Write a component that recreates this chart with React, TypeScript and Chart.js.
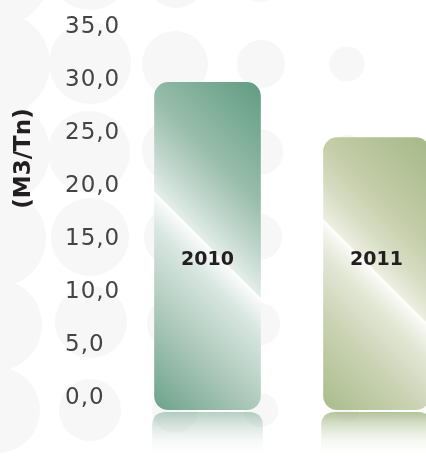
import React, { useEffect, useRef } from 'react';
import { Chart, registerables } from 'chart.js';

Chart.register(...registerables);

const categories = ['2010', '2011'];
const values = [30.9, 25.7];
const yTickLabels = ['0,0', '5,0', '10,0', '15,0', '20,0', '25,0', '30,0', '35,0'];
const yAxisTitle = '(M3/Tn)';
const yMin = 0;
const yMax = 35;
const yStep = 5;
const barLabelLevel = 14.1;

type Stop = [number, string];
const barStops: Stop[][] = [
  [
    [0, '#6ca28a'],
    [0.25, '#b0cbbe'],
    [0.42, '#d8e6e0'],
    [0.49, '#f6f9f8'],
    [0.5, '#ffffff'],
    [0.506, '#e3ede8'],
    [0.6, '#c0d6cc'],
    [0.72, '#98bdab'],
    [1, '#5f9c80'],
  ],
  [
    [0, '#a9bc8c'],
    [0.25, '#cad2b2'],
    [0.42, '#e4e8d8'],
    [0.49, '#f8f9f3'],
    [0.5, '#ffffff'],
    [0.506, '#eceee0'],
    [0.6, '#d6dcc2'],
    [0.72, '#c3cca7'],
    [1, '#a5b887'],
  ],
];
const reflectionTop = ['rgba(108,160,136,0.5)', 'rgba(160,180,128,0.8)'];

const barPct = 0.631;
const fontFamily = '"DejaVu Sans", Verdana, sans-serif';

const bgCircles: [number, number, number][] = [
  [-2, -26, 52], [-2, 64, 52], [-2, 152, 52], [-3, 238, 49], [-4, 325, 46], [-3, 410, 43],
  [90, -31, 41], [90, 63, 41], [89, 152, 41], [90, 237, 39], [91, 322, 36], [90, 410, 31],
  [176, -22, 30], [175, 64, 33], [175, 150, 33], [175, 237, 31], [175, 323, 28], [175, 410, 23],
  [259, -18, 20], [261, 64, 24], [260, 152, 23], [259, 237, 23], [258, 324, 22], [261, 410, 17],
  [347, 64, 17.5], [347, 152, 17], [347, 237, 16], [347, 324, 15], [347, 410, 12],
];

const backgroundPlugin = {
  id: 'bgCircles',
  beforeDraw(chart: any) {
    const ctx = chart.ctx;
    ctx.save();
    ctx.fillStyle = '#ffffff';
    ctx.fillRect(0, 0, chart.width, chart.height);
    ctx.fillStyle = '#f7f7f7';
    for (const [x, y, r] of bgCircles) {
      ctx.beginPath();
      ctx.arc(x, y, r, 0, Math.PI * 2);
      ctx.fill();
    }
    ctx.restore();
    ctx.letterSpacing = '1px';
  },
  beforeDatasetsDraw(chart: any) {
    chart.ctx.letterSpacing = '0px';
  },
};

const roundTopRect = (ctx: CanvasRenderingContext2D, l: number, t: number, r: number, b: number, rad: number) => {
  ctx.beginPath();
  ctx.moveTo(l, b);
  ctx.lineTo(l, t + rad);
  ctx.quadraticCurveTo(l, t, l + rad, t);
  ctx.lineTo(r - rad, t);
  ctx.quadraticCurveTo(r, t, r, t + rad);
  ctx.lineTo(r, b);
  ctx.closePath();
};

const decorPlugin = {
  id: 'decor',
  afterDatasetsDraw(chart: any) {
    const ctx: CanvasRenderingContext2D = chart.ctx;
    const meta = chart.getDatasetMeta(0);
    const ys = chart.scales.y;
    ctx.save();
    meta.data.forEach((el: any, i: number) => {
      const l = el.x - el.width / 2 - 2;
      const r = el.x + el.width / 2 + 2;
      const t = el.base + 2;
      const b = chart.height;
      const g = ctx.createLinearGradient(0, t, 0, b);
      g.addColorStop(0, reflectionTop[i]);
      g.addColorStop(1, 'rgba(255,255,255,0.05)');
      ctx.fillStyle = g;
      roundTopRect(ctx, l, t, r, b, 14);
      ctx.fill();
    });
    ctx.fillStyle = '#231f20';
    ctx.font = `bold 19px ${fontFamily}`;
    ctx.textAlign = 'center';
    ctx.textBaseline = 'middle';
    const ly = ys.getPixelForValue(barLabelLevel);
    meta.data.forEach((el: any, i: number) => {
      ctx.fillText(categories[i], el.x, ly);
    });
    ctx.restore();
  },
  afterDraw(chart: any) {
    const ctx: CanvasRenderingContext2D = chart.ctx;
    ctx.save();
    ctx.translate(24, 158.5);
    ctx.rotate(-Math.PI / 2);
    ctx.fillStyle = '#231f20';
    ctx.font = `bold 23px ${fontFamily}`;
    ctx.textAlign = 'center';
    ctx.textBaseline = 'middle';
    ctx.fillText(yAxisTitle, 0, 0);
    ctx.restore();
  },
};

export default function App() {
  const ref = useRef<HTMLCanvasElement | null>(null);
  useEffect(() => {
    if (!ref.current) return;
    const chart = new Chart(ref.current, {
      type: 'bar',
      data: {
        labels: categories,
        datasets: [
          {
            data: values,
            borderRadius: 14,
            borderSkipped: false,
            borderWidth: 0,
            barPercentage: barPct,
            categoryPercentage: 1,
            backgroundColor: (c: any) => {
              const chart = c.chart;
              const i = c.dataIndex ?? 0;
              const xs = chart.scales?.x;
              const ys = chart.scales?.y;
              if (!xs || !ys || !chart.chartArea || c.type !== 'data') return barStops[i][0][1];
              const cx = xs.getPixelForValue(i);
              const top = ys.getPixelForValue(values[i]);
              const base = ys.getPixelForValue(0);
              const cat = (chart.chartArea.right - chart.chartArea.left) / categories.length;
              const hw = (cat * barPct) / 2;
              const hh = (base - top) / 2;
              const cy = (base + top) / 2;
              const s = (hw + hh) / 2;
              const g = chart.ctx.createLinearGradient(cx - s, cy + s, cx + s, cy - s);
              for (const [p, col] of barStops[i]) g.addColorStop(p, col);
              return g;
            },
          },
        ],
      },
      options: {
        responsive: false,
        animation: false,
        devicePixelRatio: 1,
        layout: { padding: { left: 65, right: 9, top: 38.6, bottom: 46 } },
        plugins: { legend: { display: false }, tooltip: { enabled: false } },
        scales: {
          x: { display: false },
          y: {
            min: yMin,
            max: yMax,
            grid: { display: false },
            border: { display: false },
            afterFit: (scale: any) => {
              scale.width = 58;
            },
            ticks: {
              stepSize: yStep,
              crossAlign: 'far',
              labelOffset: -11.5,
              padding: 0,
              color: '#444444',
              font: { family: fontFamily, size: 23 },
              callback: (_v: any, idx: number) => yTickLabels[idx],
            },
          },
        },
      },
      plugins: [backgroundPlugin, decorPlugin],
    });
    return () => chart.destroy();
  }, []);
  return (
    <div style={{ position: 'fixed', left: 0, top: 0, width: 426, height: 456, overflow: 'hidden', background: '#fff' }}>
      <canvas ref={ref} width={470} height={456} style={{ display: 'block' }} />
    </div>
  );
}
